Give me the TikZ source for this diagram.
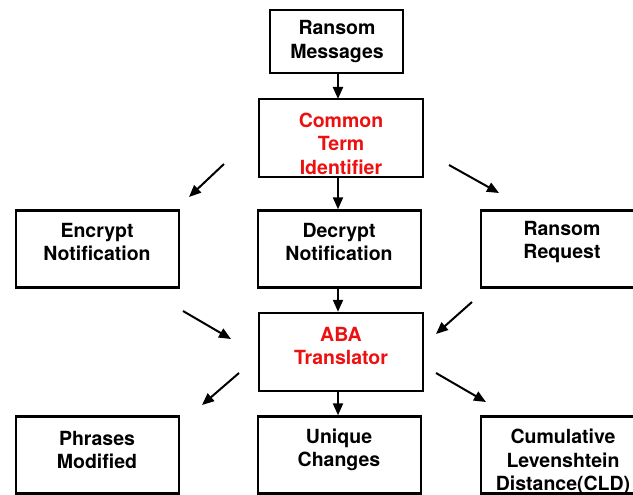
\documentclass[tikz,border=0pt]{standalone}
\usepackage{fontspec}
\setmainfont{TeX Gyre Heros}
\usetikzlibrary{arrows.meta}
\definecolor{hired}{RGB}{236,16,16}
\tikzset{
  boxnode/.style={draw=black, line width=2.4pt, rectangle, inner sep=0pt},
  txt/.style={align=center, font=\fontsize{19.5}{23.5}\selectfont\bfseries, inner sep=0pt},
  redtxt/.style={txt, text=hired},
  arr/.style={line width=2pt, -{Triangle[length=12pt,width=10pt]}},
}
\begin{document}
\begin{tikzpicture}[x=1pt,y=-1pt]
\useasboundingbox (0,0) rectangle (633,495);
\clip (0,0) rectangle (633,495);
% boxes
\node[boxnode, minimum width=133pt, minimum height=63pt] (rm) at (336.5,41.5) {};
\node[boxnode, minimum width=164pt, minimum height=78pt] (cti) at (341,138) {};
\node[boxnode, minimum width=163pt, minimum height=77pt] (enc) at (97.5,249) {};
\node[boxnode, minimum width=163pt, minimum height=77pt] (dec) at (339.5,249) {};
\node[boxnode, minimum width=163pt, minimum height=77pt] (req) at (562.5,249) {};
\node[boxnode, minimum width=164pt, minimum height=78pt] (aba) at (341,352) {};
\node[boxnode, minimum width=163pt, minimum height=77pt] (phr) at (97.5,455) {};
\node[boxnode, minimum width=163pt, minimum height=77pt] (uni) at (339.5,455) {};
\node[boxnode, minimum width=163pt, minimum height=77pt] (cld) at (562.5,455) {};
% texts
\node[txt] (trm) at (337,41.5) {Ransom\\Messages};
\node[redtxt] (tcti) at (341,143.5) {Common\\Term\\Identifier};
\node[txt] (tenc) at (97,242) {Encrypt\\Notification};
\node[txt] (tdec) at (339,242) {Decrypt\\Notification};
\node[txt] (treq) at (562,242) {Ransom\\Request};
\node[redtxt] (taba) at (341,346) {ABA\\Translator};
\node[txt] (tphr) at (97,450) {Phrases\\Modified};
\node[txt] (tuni) at (339,450) {Unique\\Changes};
\node[txt] (tcld) at (563,462) {Cumulative\\Levenshtein\\Distance(CLD)};
% free arrow ends
\coordinate (a1s) at (224,164); \coordinate (a1e) at (189,197);
\coordinate (a2s) at (449,165); \coordinate (a2e) at (499,193);
\coordinate (a3s) at (183,311); \coordinate (a3e) at (231,339);
\coordinate (a4s) at (472,302); \coordinate (a4e) at (436,334);
\coordinate (a5s) at (239,373); \coordinate (a5e) at (202,405);
\coordinate (a6s) at (436,373); \coordinate (a6e) at (486,402);
% connectors
\draw[arr] (rm.south -| 338,0) -- (338,99);
\draw[arr] (338,177) -- (dec.north -| 338,0);
\draw[arr] (338,288) -- (aba.north -| 338,0);
\draw[arr] (338,391) -- (uni.north -| 338,0);
\draw[arr] (a1s) -- (a1e);
\draw[arr] (a2s) -- (a2e);
\draw[arr] (a3s) -- (a3e);
\draw[arr] (a4s) -- (a4e);
\draw[arr] (a5s) -- (a5e);
\draw[arr] (a6s) -- (a6e);
\end{tikzpicture}
\end{document}
